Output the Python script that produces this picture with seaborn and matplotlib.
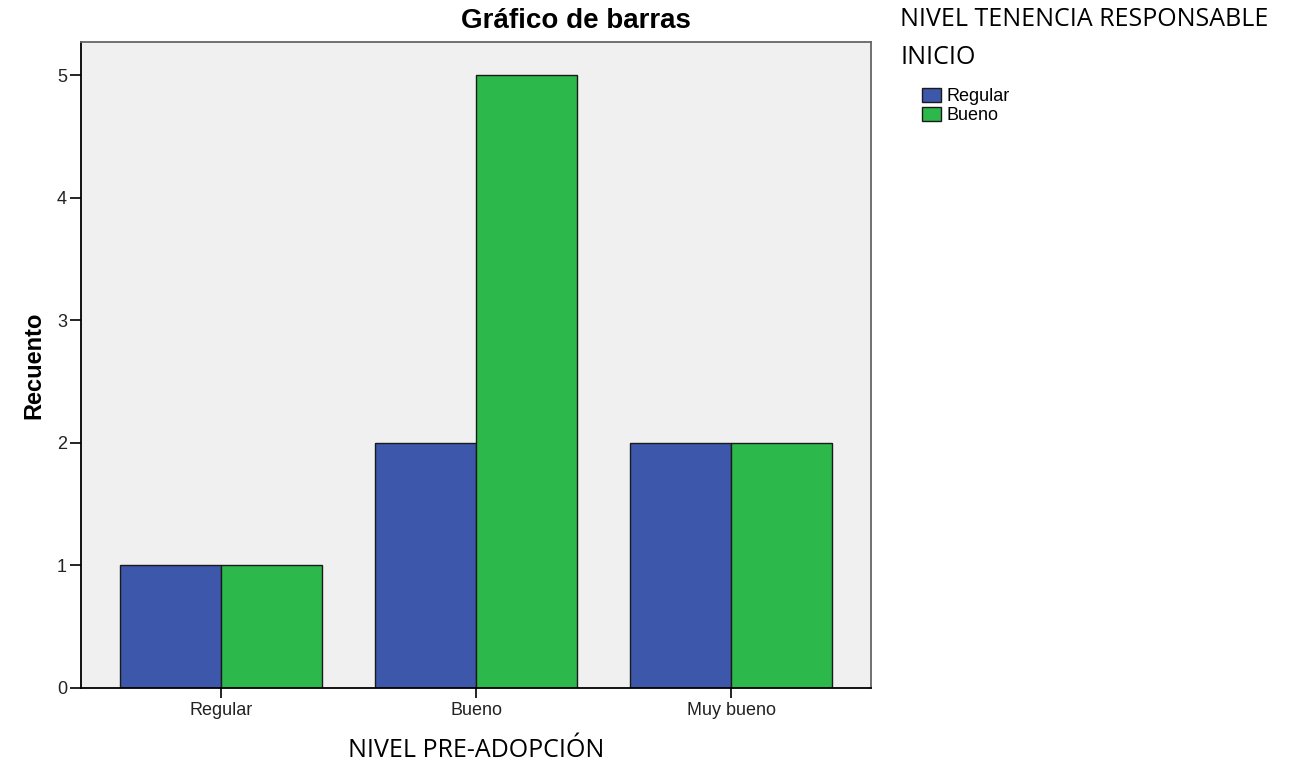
import matplotlib
matplotlib.use("Agg")
import matplotlib.pyplot as plt
import seaborn as sns
import pandas as pd

# data
categories = ["Regular", "Bueno", "Muy bueno"]
groups = ["Regular", "Bueno"]
regular_counts = [1, 2, 2]
bueno_counts = [1, 5, 2]

df = pd.DataFrame({
    "nivel": categories * 2,
    "grupo": [groups[0]] * 3 + [groups[1]] * 3,
    "recuento": regular_counts + bueno_counts,
})

sns.set_style("white")
plt.rcParams["font.family"] = ["Liberation Sans", "DejaVu Sans"]
plt.rcParams["text.color"] = "black"
plt.rcParams["axes.labelcolor"] = "black"
calibri_like = ["Open Sans", "DejaVu Sans"]

fig = plt.figure(figsize=(12.92, 7.63), dpi=100)
ax = fig.add_axes([81 / 1292, 1 - 688 / 763, 790 / 1292, 646 / 763])
ax.set_facecolor("#f0f0f0")

sns.barplot(data=df, x="nivel", y="recuento", hue="grupo", order=categories,
            hue_order=groups, palette=["#3d58ab", "#2db84b"], width=0.79,
            edgecolor="#1a1a1a", linewidth=1.0, saturation=1, ax=ax)

ax.set_xlim(-0.549, 2.549)
ax.set_ylim(0, 5.27)
ax.set_yticks([0, 1, 2, 3, 4, 5])
for s in ax.spines.values():
    s.set_visible(True)
    s.set_color("#666666")
    s.set_linewidth(1.3)
ax.spines["left"].set_color("black")
ax.spines["bottom"].set_color("black")
ax.tick_params(axis="y", length=8, width=1.2, color="black", labelsize=13,
               labelcolor="#222222", left=True, pad=2)
ax.tick_params(axis="x", length=7, width=1.2, color="black", labelsize=13,
               labelcolor="#222222", bottom=True, pad=3)

ax.set_title("")
ax.set_ylabel("Recuento", fontsize=17, fontweight="bold", labelpad=8)
ax.set_xlabel("NIVEL PRE-ADOPCIÓN", fontsize=18, family=calibri_like, labelpad=14)

fig.text(576 / 1292, 1 - 21 / 763, "Gráfico de barras", fontsize=20,
         fontweight="bold", ha="center", va="center")

h, l = ax.get_legend_handles_labels()
ax.get_legend().remove()
fig.text(900 / 1292, 1 - 19 / 763, "NIVEL TENENCIA RESPONSABLE", fontsize=18,
         family=calibri_like, va="center", ha="left")
fig.text(900 / 1292, 1 - 57 / 763, "INICIO", fontsize=18,
         family=calibri_like, va="center", ha="left")
fig.legend(h, l, loc="upper left", bbox_to_anchor=(909 / 1292, 1 - 75 / 763),
           frameon=False, fontsize=13, handlelength=1.05, handleheight=0.85,
           handletextpad=0.3, labelspacing=0.1, borderpad=0.2)

fig.savefig("out.png", dpi=100)
